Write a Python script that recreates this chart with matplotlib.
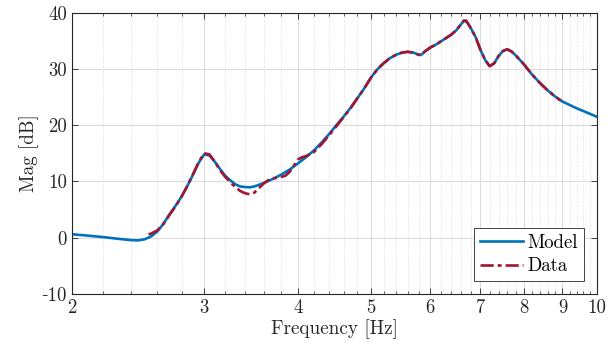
import numpy as np
import matplotlib
matplotlib.use("Agg")
import matplotlib.pyplot as plt
from matplotlib.ticker import FixedLocator, FuncFormatter, NullFormatter

plt.rcParams['font.family'] = ['cmr10', 'DejaVu Serif']
plt.rcParams['mathtext.fontset'] = 'cm'
plt.rcParams['axes.unicode_minus'] = False

# Model (identified) frequency response magnitude
freq_model = [2.0, 2.1, 2.2, 2.3, 2.4, 2.45, 2.5, 2.55, 2.6, 2.65, 2.7, 2.75, 2.8,
              2.85, 2.9, 2.95, 3.0, 3.05, 3.1, 3.15, 3.2, 3.25, 3.3, 3.35, 3.4,
              3.45, 3.5, 3.6, 3.7, 3.8, 3.9, 4.0, 4.1, 4.2, 4.3, 4.4, 4.5, 4.6,
              4.7, 4.8, 4.9, 5.0, 5.1, 5.2, 5.3, 5.4, 5.5, 5.6, 5.7, 5.8, 5.85,
              5.9, 6.0, 6.1, 6.2, 6.3, 6.4, 6.5, 6.6, 6.65, 6.7, 6.75, 6.8, 6.9,
              7.0, 7.1, 7.2, 7.3, 7.4, 7.5, 7.6, 7.7, 7.8, 7.9, 8.0, 8.2, 8.4,
              8.6, 8.8, 9.0, 9.2, 9.4, 9.6, 9.8, 10.0]
mag_model = [0.6, 0.35, 0.1, -0.2, -0.45, -0.5, -0.3, 0.2, 1.1, 2.5, 4.2, 5.7, 7.3,
             9.2, 11.2, 13.3, 14.8, 14.6, 13.5, 12.2, 11.0, 10.2, 9.5, 9.1, 9.0,
             8.95, 9.1, 9.7, 10.4, 11.2, 12.1, 13.2, 14.3, 15.5, 16.9, 18.4, 20.0, 21.5,
             23.1, 24.8, 26.5, 28.4, 29.9, 31.0, 31.9, 32.5, 32.9, 33.05, 32.9, 32.5, 32.6,
             33.1, 33.8, 34.3, 34.9, 35.5, 36.1, 36.9, 38.0, 38.5, 38.5, 37.9, 37.2, 35.6,
             33.4, 31.6, 30.5, 31.0, 32.3, 33.2, 33.5, 33.1, 32.4, 31.6, 30.8, 29.0, 27.5,
             26.2, 25.1, 24.2, 23.6, 23.0, 22.5, 22.0, 21.5]

# Measured data
freq_data = [2.53, 2.55, 2.6, 2.65, 2.7, 2.75, 2.8, 2.85, 2.9, 2.95, 3.0, 3.05, 3.1,
             3.15, 3.2, 3.25, 3.3, 3.35, 3.4, 3.45, 3.5, 3.55, 3.6, 3.65, 3.7, 3.8,
             3.85, 3.9, 3.95, 4.0, 4.05, 4.1, 4.2, 4.3, 4.4, 4.5, 4.6, 4.7, 4.8, 4.9,
             5.0, 5.1, 5.2, 5.3, 5.4, 5.5, 5.6, 5.7, 5.8, 5.85, 5.9, 6.0, 6.1, 6.2,
             6.3, 6.4, 6.5, 6.6, 6.65, 6.7, 6.75, 6.8, 6.9, 7.0, 7.1, 7.2, 7.3, 7.4,
             7.5, 7.6, 7.7, 7.8, 7.9, 8.0, 8.2, 8.4, 8.6, 8.8, 8.95]
mag_data = [0.6, 0.7, 1.3, 2.5, 4.1, 5.6, 7.3, 9.2, 11.3, 13.4, 15.0, 14.8, 13.5,
            12.0, 10.8, 9.9, 9.0, 8.3, 7.9, 7.7, 8.0, 8.8, 9.6, 10.2, 10.5, 10.8,
            11.0, 11.7, 12.8, 13.9, 14.3, 14.5, 15.2, 16.6, 18.2, 19.8, 21.4, 23.0,
            24.8, 26.5, 28.4, 29.9, 31.0, 31.9, 32.5, 32.9, 33.05, 32.9, 32.5, 32.6,
            33.1, 33.8, 34.3, 34.9, 35.5, 36.1, 36.9, 38.0, 38.6, 38.6, 37.9, 37.2,
            35.6, 33.4, 31.6, 30.5, 31.0, 32.3, 33.2, 33.5, 33.1, 32.4, 31.6, 30.8,
            29.0, 27.5, 26.2, 25.1, 24.4]

x_ticks = [2, 3, 4, 5, 6, 7, 8, 9, 10]
y_ticks = [-10, 0, 10, 20, 30, 40]

fig = plt.figure(figsize=(6.14, 3.54), dpi=100)
ax = fig.add_axes([0.117, 0.17, 0.855, 0.794])

ax.plot(freq_model, mag_model, color='#0072BD', lw=1.9, label='Model')
ax.plot(freq_data, mag_data, color='#A2142F', lw=1.9, ls='-.', dashes=(5, 1.5, 1.5, 1.5),
        label='Data')

ax.set_xscale('log')
ax.set_xlim(2, 10)
ax.set_ylim(-10, 40)

minor = [round(v, 1) for v in np.arange(2.2, 10.0, 0.2) if abs(v - round(v)) > 1e-6]
ax.xaxis.set_major_locator(FixedLocator(x_ticks))
ax.xaxis.set_minor_locator(FixedLocator(minor))
ax.xaxis.set_major_formatter(FuncFormatter(lambda v, p: '%g' % v))
ax.xaxis.set_minor_formatter(NullFormatter())
ax.yaxis.set_major_locator(FixedLocator(y_ticks))
# short hyphen for negative labels, as in the reference
ax.yaxis.set_major_formatter(FuncFormatter(lambda v, p: ('%g' % v).replace('-', '\u2010')))

ax.grid(True, which='major', color='#dcdcdc', lw=0.8, ls='-')
ax.grid(True, which='minor', axis='x', color='#d4d4d4', lw=0.6, ls=(0, (1, 2)))
ax.set_axisbelow(True)

ax.tick_params(which='both', direction='in', top=True, right=True, colors='#262626',
               labelsize=13.5, labelcolor='#262626')
ax.tick_params(which='major', length=4, width=0.6)
ax.tick_params(which='minor', length=2.5, width=0.5)
for s in ax.spines.values():
    s.set_color('#262626')
    s.set_linewidth(0.8)

ax.set_xlabel('Frequency [Hz]', fontsize=13.8, color='#262626', labelpad=2)
ax.set_ylabel('Mag [dB]', fontsize=13.8, color='#262626', labelpad=2)

leg = ax.legend(loc='lower right', fontsize=13.5, handlelength=2.3, handletextpad=0.25,
                borderaxespad=0.7, borderpad=0.3, labelspacing=0.3, fancybox=False,
                framealpha=1, edgecolor='#262626')
leg.get_frame().set_linewidth(0.6)

fig.savefig('out.png', dpi=100)
